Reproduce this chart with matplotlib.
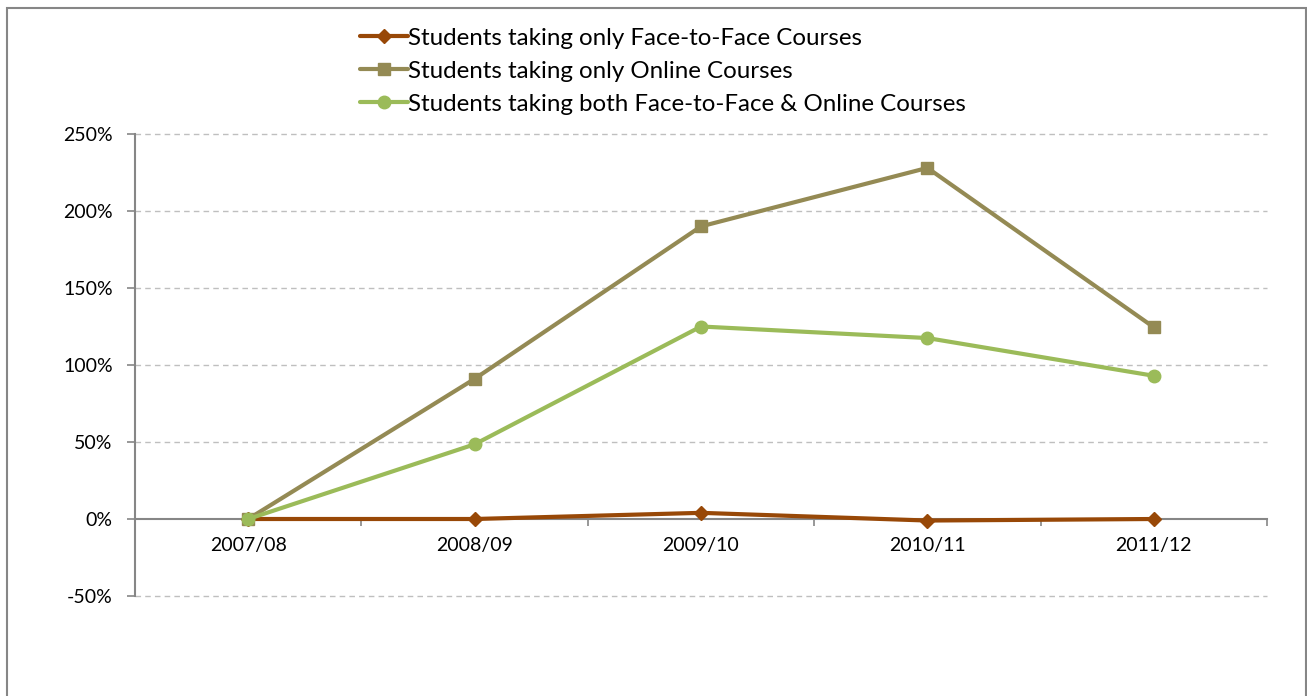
import matplotlib.pyplot as plt
import matplotlib.patches as patches
import numpy as np

# data
years = ["2007/08", "2008/09", "2009/10", "2010/11", "2011/12"]
face_to_face = [0.0, 0.0, 0.04, -0.01, 0.0]
online_only = [0.0, 0.91, 1.90, 2.28, 1.245]
both = [0.0, 0.485, 1.25, 1.175, 0.93]

labels = ["Students taking only Face-to-Face Courses",
          "Students taking only Online Courses",
          "Students taking both Face-to-Face & Online Courses"]
colors = ["#984807", "#948A54", "#9BBB59"]
markers = ["D", "s", "o"]
msizes = [7.5, 8.5, 9]

plt.rcParams['font.family'] = ['Lato', 'DejaVu Sans']

fig = plt.figure(figsize=(13.07, 6.96), dpi=100)
ax = fig.add_axes([135/1307, 1 - 596/696, (1267 - 135)/1307, (596 - 134)/696])

x = np.arange(len(years))
for vals, lab, c, m, ms in zip([face_to_face, online_only, both], labels, colors, markers, msizes):
    ax.plot(x, vals, color=c, lw=3.0, marker=m, markersize=ms, label=lab,
            solid_capstyle='round', zorder=3)

ax.set_xlim(-0.5, len(years) - 0.5)
ax.set_ylim(-0.5, 2.5)
yt = np.arange(-0.5, 2.51, 0.5)
ax.set_yticks(yt)
ax.set_yticklabels([f"{int(round(v*100))}%" for v in yt], fontsize=14)
for v in yt:
    if abs(v) > 1e-9:
        ax.axhline(v, color="#BFBFBF", lw=1, ls=(0, (4, 3)), zorder=1, clip_on=False)

# category axis crossing at zero
ax.spines['bottom'].set_position(('data', 0))
ax.spines['bottom'].set_color("#868686")
ax.spines['left'].set_color("#868686")
ax.spines['bottom'].set_linewidth(1.5)
ax.spines['left'].set_linewidth(1.5)
ax.spines['top'].set_visible(False)
ax.spines['right'].set_visible(False)

ax.set_xticks(np.arange(-0.5, len(years), 1.0))
ax.set_xticklabels([])
ax.set_xticks(x, minor=True)
ax.set_xticklabels(years, minor=True, fontsize=14)
ax.tick_params(axis='x', which='major', direction='out', length=5, color="#868686", width=1.2)
ax.tick_params(axis='x', which='minor', length=0, pad=13)
ax.tick_params(axis='y', direction='out', length=6, color="#868686", width=1.2, pad=10)

fig.legend(loc='upper left', bbox_to_anchor=(350/1307, 1 - 18/696), frameon=False,
           fontsize=17.4, handlelength=2.0, handletextpad=0.0, labelspacing=0.5,
           borderaxespad=0)

# outer chart border
fig.add_artist(patches.Rectangle((7/1307, -0.05), (1306 - 7)/1307, 1.05 - 8/696,
                                 transform=fig.transFigure, fill=False,
                                 edgecolor="#868686", lw=1.5))

fig.savefig("out.png", dpi=100)
